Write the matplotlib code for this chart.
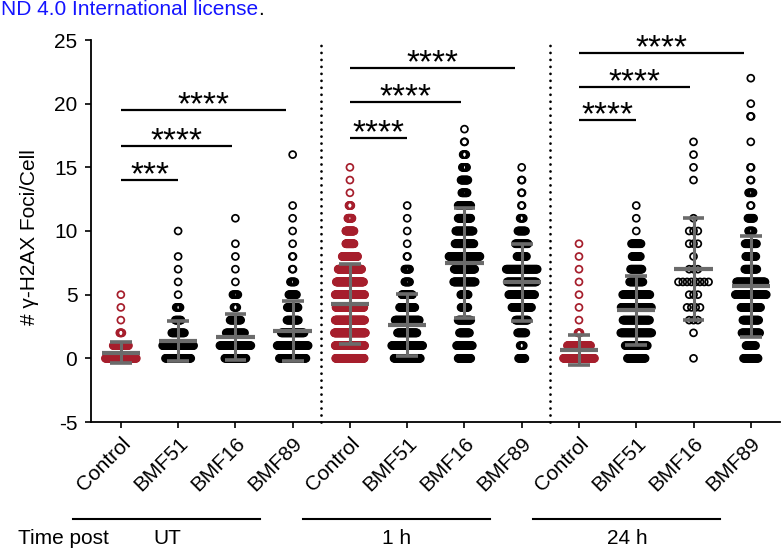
import numpy as np
import matplotlib
matplotlib.use("Agg")
import matplotlib.pyplot as plt
from matplotlib.lines import Line2D
from matplotlib.transforms import ScaledTranslation

plt.rcParams['font.family'] = ['Liberation Sans', 'DejaVu Sans']
plt.rcParams['axes.unicode_minus'] = False

# ---------------- data ----------------
categories = ['Control', 'BMF51', 'BMF16', 'BMF89'] * 3
time_labels = ['UT', '1 h', '24 h']

# number of cells per foci count (list index = # foci per cell)
ut_control = [60, 30, 5, 1, 1, 1]
ut_bmf51 = [41, 50, 21, 10, 7, 1, 1, 1, 1, 0, 1]
ut_bmf16 = [31, 45, 27, 16, 5, 8, 1, 1, 1, 1, 0, 1]
ut_bmf89 = [43, 50, 37, 19, 18, 13, 8, 2, 2, 1, 1, 1, 1, 0, 0, 0, 1]
h1_control = [92, 95, 100, 95, 90, 95, 88, 76, 50, 27, 27, 14, 7, 1, 1, 1]
h1_bmf51 = [51, 60, 38, 47, 30, 21, 10, 10, 2, 1, 1, 1, 1]
h1_bmf16 = [25, 31, 20, 25, 14, 15, 42, 40, 60, 37, 34, 25, 25, 11, 14, 9, 6, 2, 1]
h1_bmf89 = [11, 6, 14, 20, 32, 42, 47, 50, 16, 21, 13, 6, 2, 2, 2, 1]
h24_control = [80, 60, 6, 1, 1, 1, 1, 1, 1, 1]
h24_bmf51 = [29, 36, 50, 43, 49, 44, 22, 19, 14, 16, 1, 1, 1]
h24_bmf16 = [1, 0, 1, 3, 4, 3, 8, 3, 1, 3, 3, 1, 0, 0, 1, 1, 1, 1]
h24_bmf89 = [24, 16, 29, 26, 32, 50, 46, 20, 17, 19, 8, 10, 2, 8, 2, 2, 0, 1, 0, 2, 1, 0, 1]

groups = [ut_control, ut_bmf51, ut_bmf16, ut_bmf89,
          h1_control, h1_bmf51, h1_bmf16, h1_bmf89,
          h24_control, h24_bmf51, h24_bmf16, h24_bmf89]

# mean and SD shown by the grey bars
means = [0.45, 1.33, 1.67, 2.12, 4.26, 2.62, 7.48, 5.97, 0.65, 3.79, 7.0, 5.65]
sds = [0.82, 1.57, 1.83, 2.35, 3.13, 2.40, 4.30, 3.02, 1.19, 2.71, 4.00, 3.97]

# significance comparisons
sig_pairs = [(0, 1), (0, 2), (0, 3), (4, 5), (4, 6), (4, 7), (8, 9), (8, 10), (8, 11)]
sig_labels = ['***', '****', '****', '****', '****', '****', '****', '****', '****']
sig_heights = [14.0, 16.7, 19.5, 17.3, 20.1, 22.8, 18.7, 21.3, 24.0]

# ---------------- style ----------------
RED = '#a61e2c'
GREY = '#6b6b6b'
W, H = 781, 550
fig = plt.figure(figsize=(W / 100, H / 100), dpi=100)
ax = fig.add_axes([90.5 / W, 1 - 422 / H, (780 - 90.5) / W, (422 - 40) / H])

colors = [RED if c == 'Control' else 'black' for c in categories]

half_width = 0.27
max_step = 0.075
for i, counts in enumerate(groups):
    nmax = max(counts)
    step = min(max_step, 2 * half_width / max(nmax - 1, 1))
    xs, ys = [], []
    for v, n in enumerate(counts):
        if n == 0:
            continue
        off = (np.arange(n) - (n - 1) / 2) * step
        xs.extend(i + off)
        ys.extend([v] * n)
    ax.scatter(xs, ys, s=25, facecolors='none', edgecolors=colors[i],
               linewidths=1.25, zorder=2, clip_on=False)

for i, (m, sd) in enumerate(zip(means, sds)):
    ax.plot([i, i], [m - sd, m + sd], color=GREY, lw=2.2, zorder=3, solid_capstyle='butt')
    for yy in (m - sd, m + sd):
        ax.plot([i - 0.19, i + 0.19], [yy, yy], color=GREY, lw=2.6, zorder=3,
                solid_capstyle='butt')
    ax.plot([i - 0.335, i + 0.335], [m, m], color=GREY, lw=3.0, zorder=3,
            solid_capstyle='butt')

# separators
for xv in (3.5, 7.5):
    ax.plot([xv, xv], [-5, 25], color='black', lw=2.0, linestyle=(0, (0.01, 2.5)),
            dash_capstyle='round', zorder=1, clip_on=False)

# significance bars
for (a, b), lab, h in zip(sig_pairs, sig_labels, sig_heights):
    end = b - 0.06 * (b - a - 1) if b - a > 1 else b
    ax.plot([a, end], [h, h], color='black', lw=1.6, zorder=4, clip_on=False,
            solid_capstyle='butt')
    ax.annotate(lab, xy=((a + end) / 2, h), xytext=(0, -3), textcoords='offset points',
                ha='center', va='baseline', fontsize=24, zorder=4, annotation_clip=False)

ax.set_xlim(-0.53, 11.51)
ax.set_ylim(-5, 25)
ax.set_yticks(np.arange(-5, 26, 5))
ax.set_xticks(np.arange(len(categories)))
ax.set_xticklabels(categories, rotation=45, ha='right', va='top',
                   rotation_mode='anchor', fontsize=15)
shift = ScaledTranslation(-3 / 100, -4 / 100, fig.dpi_scale_trans)
for lbl in ax.get_xticklabels():
    lbl.set_transform(lbl.get_transform() + shift)
ax.tick_params(axis='y', labelsize=15, length=4.5, width=1.2, pad=5)
ax.tick_params(axis='x', length=4.5, width=1.2, pad=4)
for s in ('top', 'right'):
    ax.spines[s].set_visible(False)
for s in ('left', 'bottom'):
    ax.spines[s].set_linewidth(1.3)

fig.text(30 / W, 1 - 237 / H, '# γ-H2AX Foci/Cell', rotation=90, ha='center',
         va='center', fontsize=15)

# time-point group annotations
line_spans = [(73, 260), (303, 490), (533, 720)]
label_x = [167, 397, 627]
for (x0, x1), lx, lab in zip(line_spans, label_x, time_labels):
    fig.add_artist(Line2D([x0 / W, x1 / W], [1 - 519 / H] * 2, transform=fig.transFigure,
                          color='black', lw=1.5))
    fig.text(lx / W, 1 - 538 / H, lab, ha='center', va='center', fontsize=15)
fig.text(18 / W, 1 - 538 / H, 'Time post', ha='left', va='center', fontsize=15)

t = fig.text(1 / W, 1 - 15 / H, 'ND 4.0 International license', color='#1414ff',
             ha='left', va='baseline', fontsize=15)
ax.annotate('.', xy=(1, 0), xycoords=t, ha='left', va='bottom', fontsize=15,
            color='black', annotation_clip=False)

fig.savefig('out.png', dpi=100)
